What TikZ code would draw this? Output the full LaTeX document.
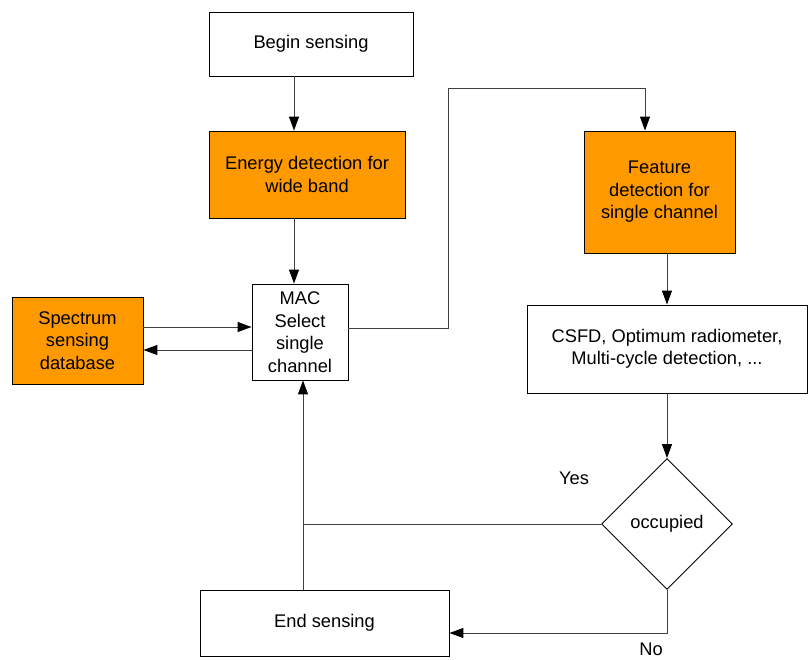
\documentclass[tikz,border=0pt]{standalone}
\usepackage{fontspec}
\setmainfont{Liberation Sans}
\usetikzlibrary{shapes.geometric,arrows.meta}
\definecolor{boxorange}{HTML}{FF9900}
\definecolor{linegray}{HTML}{404040}
\tikzset{
  box/.style={draw=black, line width=0.9pt, align=center, inner sep=2pt,
    font=\fontsize{18.3}{22.5}\selectfont},
  hot/.style={box, fill=boxorange},
  decision/.style={diamond, draw=black, line width=0.9pt, inner sep=0pt, aspect=1,
    font=\fontsize{18.3}{22.5}\selectfont},
  link/.style={draw=linegray, line width=1pt},
  arr/.style={link, -{Triangle[length=14pt,width=10pt,color=black]}},
  lbl/.style={font=\fontsize{18.3}{22.5}\selectfont}
}
\begin{document}
\begin{tikzpicture}[x=1pt,y=-1pt]
\useasboundingbox (0,0) rectangle (808,659);
\fill[white] (0,0) rectangle (808,659);

% process boxes
\node[box, minimum width=204pt, minimum height=64pt] (begin) at (311,44) {Begin sensing};
\node[hot, minimum width=196pt, minimum height=87pt] (energy) at (307,174.5) {Energy detection for\\wide band};
\node[box, minimum width=96pt, minimum height=96pt] (mac) at (300,332) {MAC\\Select\\single\\channel};
\node[hot, minimum width=131pt, minimum height=87pt] (spec) at (77.5,340.5) {Spectrum\\sensing\\database};
\node[hot, minimum width=151pt, minimum height=122pt] (feat) at (659.5,192) {Feature\\detection for\\single channel};
\node[box, minimum width=280pt, minimum height=88pt] (csfd) at (667,349) {CSFD, Optimum radiometer,\\Multi-cycle detection, ...};
\node[decision, minimum width=131pt, minimum height=131pt] (occ) at (667,524) {occupied};
\node[box, minimum width=249pt, minimum height=66pt] (end) at (324.5,623) {End sensing};

% routing points
\coordinate (colA) at (294,0);
\coordinate (colB) at (303,0);
\coordinate (up1) at (448,328);
\coordinate (up2) at (448,88);
\coordinate (dn2) at (645,88);
\coordinate (rowIn) at (0,327);
\coordinate (rowOut) at (0,350);
\coordinate (noRow) at (0,633);

% main flow
\draw[arr] (begin.south -| colA) -- (energy.north -| colA);
\draw[arr] (energy.south -| colA) -- (mac.north -| colA);
\draw[arr] (mac.east |- up1) -- (up1) -- (up2) -- (dn2) -- (feat.north -| dn2);
\draw[arr] (feat.south -| occ) -- (csfd.north -| occ);
\draw[arr] (csfd.south -| occ) -- (occ.north);

% database exchange
\draw[arr] (spec.east |- rowIn) -- (mac.west |- rowIn);
\draw[arr] (mac.west |- rowOut) -- (spec.east |- rowOut);

% decision outcomes
\draw[link] (occ.west) -- (occ.west -| colB);
\draw[arr] (end.north -| colB) -- (mac.south -| colB);
\draw[arr] (occ.south) -- (occ.south |- noRow) -- (end.east |- noRow);

\node[lbl] (yes) at (574,478) {Yes};
\node[lbl] (no) at (651,649) {No};
\end{tikzpicture}
\end{document}
